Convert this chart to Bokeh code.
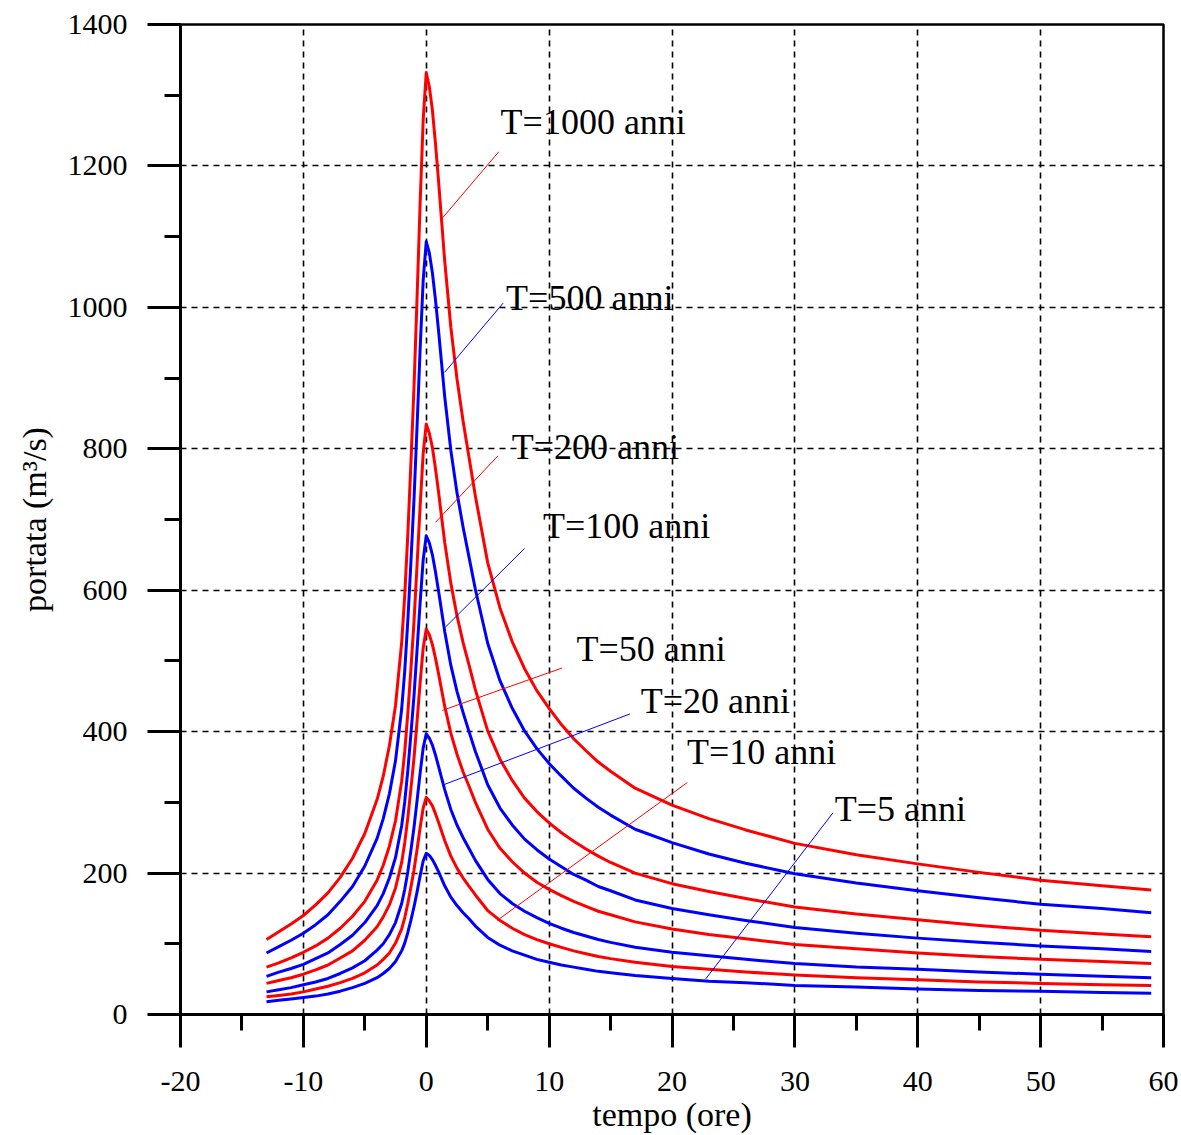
from bokeh.plotting import figure
from bokeh.models import Range1d, SingleIntervalTicker, PrintfTickFormatter
from bokeh.core.properties import value
from bokeh.embed import file_html
from bokeh.resources import INLINE

# ---------------- data ----------------
tempo = [-13, -12, -11, -10, -9, -8, -7, -6, -5, -4, -3.5, -3, -2.5, -2, -1.75, -1.5,
         -1.25, -1, -0.75, -0.5, -0.25, 0, 0.25, 0.5, 0.75, 1, 1.5, 2, 2.5, 3, 3.5, 4,
         5, 6, 7, 8, 9, 10, 11, 12, 13, 14, 15, 17, 20, 23, 26, 30, 35, 40, 45, 50, 55, 59]

q_T1000 = [106, 117, 128, 140, 155, 172, 194, 221, 256, 304, 337, 380, 437, 526, 593, 679,
           779, 886, 1012, 1146, 1265, 1332, 1312, 1279, 1232, 1179, 1066, 972, 899, 839, 786, 733,
           639, 575, 527, 489, 458, 433, 410, 390, 373, 357, 344, 320, 296, 277, 261, 242,
           226, 213, 201, 190, 182, 176]
q_T500 = [87, 96, 105, 115, 127, 141, 160, 181, 210, 249, 277, 312, 359, 432, 486, 557,
          639, 727, 831, 940, 1038, 1093, 1077, 1049, 1011, 967, 874, 798, 738, 689, 645, 601,
          525, 472, 433, 401, 376, 355, 337, 320, 306, 293, 282, 262, 243, 227, 214, 199,
          186, 175, 165, 156, 150, 144]
q_T200 = [67, 73, 80, 88, 97, 108, 122, 139, 160, 190, 211, 238, 274, 330, 372, 426,
          488, 555, 635, 718, 793, 835, 822, 802, 772, 739, 668, 610, 564, 526, 493, 459,
          401, 361, 331, 306, 287, 271, 257, 245, 234, 224, 215, 200, 185, 174, 164, 152,
          142, 134, 126, 119, 114, 110]
q_T100 = [54, 60, 65, 71, 79, 87, 99, 112, 130, 154, 171, 193, 222, 267, 301, 345,
          396, 450, 515, 582, 643, 677, 667, 650, 626, 599, 542, 494, 457, 427, 399, 372,
          325, 292, 268, 248, 233, 220, 209, 198, 190, 181, 175, 162, 150, 141, 133, 123,
          115, 108, 102, 97, 93, 89]
q_T50 = [44, 48, 52, 57, 63, 70, 80, 90, 105, 124, 138, 155, 179, 215, 243, 278,
         319, 362, 414, 469, 518, 545, 537, 523, 504, 482, 436, 398, 368, 343, 322, 300,
         262, 235, 216, 200, 187, 177, 168, 160, 153, 146, 141, 131, 121, 113, 107, 99,
         93, 87, 82, 78, 75, 72]
q_T20 = [32, 35, 38, 42, 46, 51, 58, 66, 76, 91, 100, 113, 130, 157, 177, 202,
         232, 264, 302, 341, 377, 397, 391, 381, 367, 351, 318, 290, 268, 250, 234, 218,
         191, 171, 157, 146, 137, 129, 122, 116, 111, 106, 102, 95, 88, 83, 78, 72,
         67, 64, 60, 57, 54, 52]
q_T10 = [25, 27, 29, 32, 36, 40, 45, 51, 59, 70, 78, 87, 101, 121, 137, 157,
         180, 204, 233, 264, 292, 307, 302, 295, 284, 272, 246, 224, 207, 193, 181, 169,
         147, 133, 122, 113, 106, 100, 95, 90, 86, 82, 79, 74, 68, 64, 60, 56,
         52, 49, 46, 44, 42, 41]
q_T5 = [18, 20, 22, 24, 26, 29, 33, 38, 44, 52, 58, 65, 75, 90, 101, 116,
        133, 152, 173, 196, 217, 228, 225, 219, 211, 202, 182, 166, 154, 144, 135, 125,
        109, 98, 90, 84, 78, 74, 70, 67, 64, 61, 59, 55, 51, 47, 45, 41,
        39, 36, 34, 33, 31, 30]

series_names = ["T=1000 anni", "T=500 anni", "T=200 anni", "T=100 anni",
                "T=50 anni", "T=20 anni", "T=10 anni", "T=5 anni"]
series_values = [q_T1000, q_T500, q_T200, q_T100, q_T50, q_T20, q_T10, q_T5]
series_colors = ["#ff0000", "#0000ff", "#ff0000", "#0000ff",
                 "#ff0000", "#0000ff", "#ff0000", "#0000ff"]

# callout labels: text position (x, baseline y) and leader line (x1,y1)->(x2,y2)
label_x = [6.05, 6.50, 6.95, 9.50, 12.22, 17.45, 21.22, 33.25]
label_y = [1262, 1013, 803, 691, 517, 444, 371, 291]
lead_x1 = [5.90, 6.26, 5.83, 8.00, 11.06, 16.57, 21.24, 33.09]
lead_y1 = [1220, 1006, 790, 659, 490, 425, 328, 285]
lead_x2 = [1.35, 1.49, 0.75, 1.57, 1.30, 1.43, 5.77, 22.73]
lead_y2 = [1127, 908, 696, 548, 430, 325, 133, 50]

FONT = "Liberation Serif"

p = figure(width=1181, height=1135, output_backend="svg", toolbar_location=None,
           x_range=Range1d(-20, 60), y_range=Range1d(0, 1400),
           min_border_left=180, min_border_right=18, min_border_top=24,
           min_border_bottom=121)
p.background_fill_color = "white"
p.border_fill_color = "white"
p.outline_line_color = "black"
p.outline_line_width = 2.5

p.xaxis.ticker = SingleIntervalTicker(interval=10, num_minor_ticks=2)
p.yaxis.ticker = SingleIntervalTicker(interval=200, num_minor_ticks=2)
for ax in (p.xaxis, p.yaxis):
    ax.formatter = PrintfTickFormatter(format="%d")
    ax.axis_line_width = 3
    ax.axis_line_color = "black"
    ax.major_tick_line_width = 3
    ax.minor_tick_line_width = 3
    ax.major_tick_line_color = "black"
    ax.minor_tick_line_color = "black"
    ax.major_tick_out = 33
    ax.major_tick_in = 0
    ax.minor_tick_out = 16
    ax.minor_tick_in = 0
    ax.major_label_text_font = FONT
    ax.major_label_text_font_size = "30px"
    ax.major_label_text_color = "black"
    ax.axis_label_text_font = FONT
    ax.axis_label_text_font_size = "34px"
    ax.axis_label_text_font_style = "normal"
    ax.axis_label_text_color = "black"
p.xaxis.major_label_standoff = 24
p.yaxis.major_label_standoff = 20
p.xaxis.axis_label = "tempo (ore)"
p.yaxis.axis_label = "portata (m³/s)"
p.xaxis.axis_label_standoff = 2
p.yaxis.axis_label_standoff = 12

for g in (p.xgrid, p.ygrid):
    g.grid_line_color = "black"
    g.grid_line_width = 1.6
    g.grid_line_dash = "6 5"

for vals, col in zip(series_values, series_colors):
    p.line(tempo, vals, line_color=col, line_width=3, line_join="round")

p.segment(lead_x1, lead_y1, lead_x2, lead_y2, line_color=series_colors, line_width=1)
p.text(label_x, label_y, text=series_names, text_font=value(FONT),
       text_font_size="36px", text_color="black", text_baseline="alphabetic",
       text_align="left")

open("out.html", "w").write(file_html(p, INLINE))
